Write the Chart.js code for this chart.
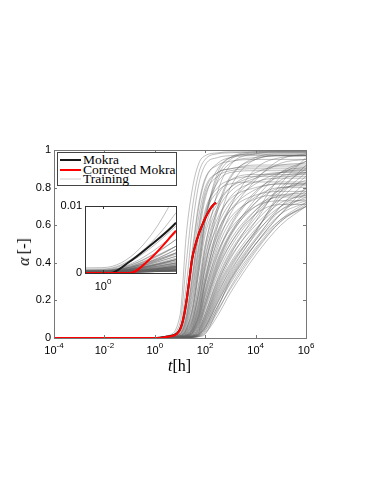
<!DOCTYPE html>
<html lang="en">
<head>
<meta charset="UTF-8">
<title>Mokra vs training curves</title>
<script src="https://cdn.jsdelivr.net/npm/chart.js"></script>
<style>
  body { margin: 0; background: #fff; }
  #wrap { position: relative; width: 382px; height: 494px; overflow: hidden; }
  #wrap canvas { position: absolute; left: 0; top: 0; }
  .serif { position: absolute; font-family: "Liberation Serif", "DejaVu Serif", serif; color: #000; white-space: nowrap; }
  #legend { position: absolute; left: 57px; top: 152px; width: 120px; height: 34px; box-sizing: border-box;
            border: 1px solid #444; background: #fff; font-family: "Liberation Serif", "DejaVu Serif", serif; }
  #legend .row { position: absolute; left: 25px; font-size: 13.5px; line-height: 14px; white-space: nowrap; }
  #legend .sw { position: absolute; left: -23px; top: 6px; width: 21px; height: 2px; }
  #xtitle { left: 168px; top: 357px; font-size: 16px; }
  #ytitle { left: 24px; top: 252px; font-size: 16px; transform: translate(-50%, -50%) rotate(-90deg); }
</style>
</head>
<body>
<div id="wrap">
  <canvas id="main" width="382" height="494"></canvas>
  <canvas id="inset" width="382" height="494"></canvas>
  <div id="legend">
    <div class="row" style="top:0px"><span class="sw" style="background:#1a1a1a"></span>Mokra</div>
    <div class="row" style="top:10px"><span class="sw" style="background:#ff0000"></span>Corrected Mokra</div>
    <div class="row" style="top:19px"><span class="sw" style="background:#e6e6e6"></span>Training</div>
  </div>
  <div id="xtitle" class="serif"><i>t</i>[h]</div>
  <div id="ytitle" class="serif"><i>α</i>&#8201;[-]</div>
</div>

<script>
// time grid (hours) shared by the training curves
const T_GRID = [1e-4, 1, 3.162, 10, 17.78, 31.62, 56.23, 100, 316.2, 1000, 1e4, 1e5, 1e6];

// training curves, alpha at each T_GRID point
const TRAINING = [
  [0, .0008, .012, .12, .55, .80, .93, .97, .985, .99, .99, .99, .99],
  [0, .0006, .009, .08, .40, .70, .88, .95, .98, .985, .99, .99, .99],
  [0, .0005, .007, .05, .28, .60, .82, .92, .96, .97, .975, .975, .975],
  [0, .0004, .006, .04, .20, .48, .72, .85, .92, .94, .95, .95, .95],
  [0, .0004, .005, .03, .15, .40, .65, .80, .88, .90, .91, .91, .91],
  [0, .0003, .004, .025, .12, .33, .58, .76, .86, .89, .90, .90, .90],
  [0, .0003, .004, .02, .10, .30, .55, .74, .90, .96, .98, .985, .985],
  [0, .0003, .0035, .02, .09, .27, .50, .68, .80, .84, .86, .86, .86],
  [0, .0003, .003, .015, .07, .22, .45, .65, .78, .82, .83, .83, .83],
  [0, .0002, .003, .015, .06, .20, .42, .62, .84, .93, .96, .97, .97],
  [0, .0002, .002, .01, .04, .14, .36, .62, .88, .96, .99, .995, .995],
  [0, .00015, .0015, .006, .025, .09, .25, .48, .78, .92, .98, .99, .99],
  [0, .0001, .001, .004, .015, .06, .18, .38, .68, .85, .96, .98, .98],
  [0, .0001, .0008, .003, .01, .04, .13, .30, .60, .80, .95, .97, .97],
  [0, .0003, .003, .012, .05, .15, .35, .55, .72, .80, .86, .88, .88],
  [0, .0002, .0025, .01, .04, .12, .30, .50, .70, .80, .88, .92, .93],
  [0, .0002, .002, .008, .03, .10, .25, .44, .64, .74, .80, .82, .82],
  [0, .0002, .002, .007, .025, .08, .22, .40, .60, .72, .85, .93, .95],
  [0, .0002, .0018, .006, .02, .07, .19, .36, .57, .68, .76, .78, .78],
  [0, .0002, .0015, .005, .018, .06, .17, .33, .56, .70, .82, .88, .90],
  [0, .00015, .0015, .005, .015, .05, .15, .30, .52, .64, .74, .76, .76],
  [0, .00015, .0012, .004, .012, .045, .13, .28, .50, .66, .84, .95, .98],
  [0, .00015, .0012, .004, .012, .04, .12, .26, .46, .58, .70, .73, .73],
  [0, .00015, .001, .0035, .01, .035, .11, .24, .45, .60, .78, .86, .88],
  [0, .0001, .001, .003, .009, .03, .10, .22, .42, .56, .72, .80, .81],
  [0, .0001, .0009, .003, .008, .028, .09, .20, .40, .55, .74, .88, .94],
  [0, .0001, .0008, .0025, .007, .025, .08, .18, .38, .52, .68, .76, .77],
  [0, .0001, .0008, .0025, .006, .022, .07, .17, .37, .50, .66, .71, .71],
  [0, .0001, .0007, .002, .005, .018, .06, .15, .34, .48, .66, .78, .84],
  [0, .0001, .0006, .002, .005, .015, .05, .13, .32, .46, .64, .80, .90],
  [0, .0001, .0006, .0018, .004, .012, .045, .12, .30, .43, .60, .72, .76],
  [0, .0001, .0005, .0015, .004, .011, .04, .11, .28, .42, .62, .82, .96],
  [0, .0001, .0005, .0015, .0035, .01, .035, .10, .27, .40, .58, .70, .74],
  [0, .0001, .0005, .0012, .003, .009, .03, .09, .25, .38, .57, .74, .86],
  [0, .0001, .0004, .0012, .003, .008, .025, .08, .24, .36, .55, .70, .78],
  [0, .0001, .0004, .001, .0025, .007, .022, .07, .22, .35, .56, .78, .92],
  [0, .0001, .0004, .001, .0025, .006, .02, .06, .20, .33, .52, .66, .72],
  [0, .0001, .0003, .001, .002, .005, .018, .055, .19, .31, .50, .66, .80],
  [0, .0001, .0003, .0008, .002, .005, .015, .05, .17, .29, .48, .63, .72],
  [0, .0001, .0003, .0008, .0018, .004, .012, .04, .15, .26, .46, .62, .70],
  [0, .0001, .0003, .0006, .0012, .003, .007, .02, .16, .31, .50, .63, .70],
  [0, .0004, .005, .035, .17, .45, .70, .84, .93, .96, .97, .97, .97],
  [0, .0003, .004, .022, .11, .34, .60, .78, .88, .90, .92, .92, .92],
  [0, .0003, .0035, .018, .08, .25, .48, .66, .83, .88, .89, .89, .89],
  [0, .0002, .0028, .012, .05, .17, .38, .58, .76, .84, .87, .87, .87],
  [0, .0002, .0022, .009, .035, .11, .28, .47, .68, .78, .85, .88, .89],
  [0, .0002, .002, .008, .03, .095, .24, .42, .70, .86, .95, .97, .97],
  [0, .0002, .0017, .006, .022, .075, .20, .38, .62, .75, .83, .85, .85],
  [0, .00015, .0014, .005, .017, .055, .16, .32, .55, .68, .79, .82, .82],
  [0, .00015, .0013, .0045, .014, .048, .14, .29, .53, .70, .90, .96, .97],
  [0, .00015, .0011, .004, .011, .038, .115, .25, .48, .62, .75, .80, .80],
  [0, .0001, .001, .0032, .0095, .032, .10, .23, .44, .59, .77, .88, .91],
  [0, .0001, .0009, .0028, .008, .027, .085, .20, .41, .55, .70, .75, .75],
  [0, .0001, .0008, .0024, .0065, .022, .072, .18, .39, .54, .72, .84, .88],
  [0, .0001, .0007, .002, .0055, .018, .06, .16, .36, .50, .68, .79, .82],
  [0, .0001, .0006, .0018, .0045, .014, .05, .13, .31, .45, .62, .74, .79],
  [0, .0001, .0005, .0015, .0038, .011, .04, .11, .29, .44, .66, .86, .94],
  [0, .0001, .0005, .0013, .0032, .009, .032, .095, .26, .39, .56, .68, .73],
  [0, .0001, .0004, .0011, .0028, .008, .026, .08, .23, .37, .57, .76, .88],
  [0, .0001, .0004, .001, .0024, .0065, .021, .065, .21, .34, .53, .68, .75],
  [0, .0001, .0003, .0009, .002, .0055, .017, .055, .19, .32, .52, .70, .83],
  [0, .0001, .0003, .0008, .0018, .0045, .013, .042, .17, .30, .50, .66, .77],
  [0, .0001, .0003, .0007, .0015, .0038, .01, .032, .14, .27, .47, .62, .71],
  [0, .0001, .0003, .0006, .0013, .0032, .008, .025, .12, .24, .44, .60, .70],
  [0, .0002, .0025, .011, .045, .16, .40, .63, .86, .95, .985, .99, .99]
];

// Mokra model
const MOKRA_T = [1e-4, 1.12, 1.5, 2.0, 3.162, 5.0, 6.3, 7.9, 10, 12.6, 15.8, 19.1, 24, 30.2, 39.8, 56.2, 81.3, 112, 155, 200, 269];
const MOKRA_A = [0, 0, .0016, .0037, .0075, .013, .018, .027, .047, .085, .15, .22, .32, .42, .49, .555, .61, .65, .685, .705, .72];

// corrected Mokra model
const CORR_T = [1e-4, 1.53, 2.1, 3.162, 5.0, 6.3, 7.9, 10, 12.6, 15.8, 19.1, 24, 30.2, 39.8, 56.2, 81.3, 112, 155, 200, 269];
const CORR_A = [0, 0, .0021, .0063, .011, .016, .025, .045, .085, .15, .22, .32, .42, .49, .555, .61, .65, .685, .705, .72];

const X_DECADES = [-4, -2, 0, 2, 4, 6];
const Y_TICKS = [0, 0.2, 0.4, 0.6, 0.8, 1];
const INSET_DECADES = [0];
const INSET_Y_TICKS = [0, 0.01];

function pts(ts, as) {
  return ts.map((t, i) => ({ x: t, y: as[i] }));
}

function makeDatasets() {
  const sets = [
    { label: 'Corrected Mokra', data: pts(CORR_T, CORR_A), borderColor: '#ff0000', borderWidth: 2, order: 0 },
    { label: 'Mokra', data: pts(MOKRA_T, MOKRA_A), borderColor: '#1a1a1a', borderWidth: 2, order: 1 }
  ];
  TRAINING.forEach((row, k) => {
    sets.push({ label: k === 0 ? 'Training' : '', data: pts(T_GRID, row),
      borderColor: 'rgba(95,95,95,0.5)', borderWidth: 0.8, order: 2 });
  });
  sets.forEach(s => { s.pointRadius = 0; s.fill = false; s.cubicInterpolationMode = 'monotone'; });
  return sets;
}

// box, inward ticks and 10^k labels, MATLAB style
function framePlugin(decades, yticks, boxColor, labelY, whiteBg) {
  return {
    id: 'frame',
    beforeDraw(chart) {
      if (!whiteBg) return;
      const a = chart.chartArea, ctx = chart.ctx;
      ctx.save();
      ctx.fillStyle = '#fff';
      ctx.fillRect(a.left, a.top, a.right - a.left, a.bottom - a.top);
      ctx.restore();
    },
    afterDraw(chart) {
      const a = chart.chartArea, ctx = chart.ctx;
      const xs = chart.scales.x, ys = chart.scales.y;
      ctx.save();
      ctx.strokeStyle = boxColor;
      ctx.lineWidth = 1;
      ctx.strokeRect(Math.round(a.left) + 0.5, Math.round(a.top) + 0.5,
        Math.round(a.right - a.left), Math.round(a.bottom - a.top));
      ctx.beginPath();
      decades.forEach(k => {
        const x = Math.round(xs.getPixelForValue(Math.pow(10, k))) + 0.5;
        ctx.moveTo(x, a.bottom); ctx.lineTo(x, a.bottom - 3);
        ctx.moveTo(x, a.top); ctx.lineTo(x, a.top + 3);
      });
      yticks.forEach(v => {
        const y = Math.round(ys.getPixelForValue(v)) + 0.5;
        ctx.moveTo(a.left, y); ctx.lineTo(a.left + 3, y);
        ctx.moveTo(a.right, y); ctx.lineTo(a.right - 3, y);
      });
      ctx.stroke();
      ctx.fillStyle = '#000';
      ctx.textBaseline = 'alphabetic';
      ctx.textAlign = 'left';
      decades.forEach(k => {
        const x = xs.getPixelForValue(Math.pow(10, k));
        const exp = String(k);
        ctx.font = '11px "Liberation Sans", Arial, sans-serif';
        const w1 = ctx.measureText('10').width;
        ctx.font = '8px "Liberation Sans", Arial, sans-serif';
        const w2 = ctx.measureText(exp).width;
        const x0 = x - (w1 + w2) / 2;
        ctx.font = '11px "Liberation Sans", Arial, sans-serif';
        ctx.fillText('10', x0, labelY);
        ctx.font = '8px "Liberation Sans", Arial, sans-serif';
        ctx.fillText(exp, x0 + w1, labelY - 6);
      });
      ctx.restore();
    }
  };
}

function axisOptions(xmin, xmax, ymin, ymax, ystep, yWidth, xHeight) {
  return {
    x: {
      type: 'logarithmic', min: xmin, max: xmax,
      grid: { display: false, drawTicks: false },
      border: { display: false },
      ticks: { display: false },
      afterFit(s) { s.height = xHeight; }
    },
    y: {
      min: ymin, max: ymax,
      grid: { display: false, drawTicks: false },
      border: { display: false },
      ticks: {
        stepSize: ystep, padding: 3, color: '#000',
        font: { family: '"Liberation Sans", Arial, sans-serif', size: 11 },
        callback: v => String(Math.round(v * 1000) / 1000)
      },
      afterFit(s) { s.width = yWidth; }
    }
  };
}

const common = {
  responsive: false, animation: false, devicePixelRatio: 1, events: [],
  plugins: { legend: { display: false }, tooltip: { enabled: false } }
};

// main chart: plot area x 54..306, y 150..338
new Chart(document.getElementById('main'), {
  type: 'line',
  data: { datasets: makeDatasets() },
  options: Object.assign({}, common, {
    layout: { padding: { left: 0, top: 150, right: 76, bottom: 494 - 338 - 20 } },
    scales: axisOptions(1e-4, 1e6, 0, 1, 0.2, 54, 20)
  }),
  plugins: [framePlugin(X_DECADES, Y_TICKS, '#777', 354, false)]
});

// inset: plot area x 85..176, y 206..273
new Chart(document.getElementById('inset'), {
  type: 'line',
  data: { datasets: makeDatasets() },
  options: Object.assign({}, common, {
    layout: { padding: { left: 85 - 30, top: 206, right: 382 - 176, bottom: 494 - 273 - 20 } },
    scales: axisOptions(0.753, 3.162, 0, 0.01, 0.01, 30, 20)
  }),
  plugins: [framePlugin(INSET_DECADES, INSET_Y_TICKS, '#333', 290, true)]
});
</script>
</body>
</html>
